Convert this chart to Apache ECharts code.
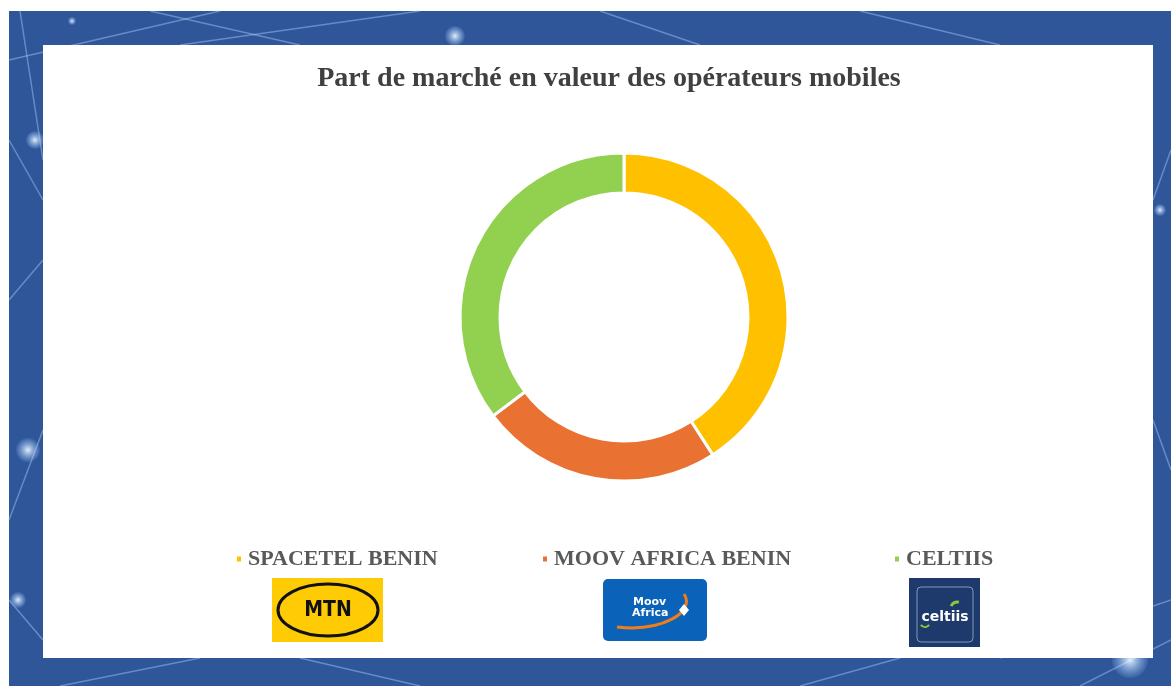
<!DOCTYPE html>
<html>
<head>
<meta charset="utf-8">
<script src="https://cdn.jsdelivr.net/npm/echarts@6/dist/echarts.min.js"></script>
<style>
  html, body { margin: 0; padding: 0; background: #fff; }
  #chart { width: 1171px; height: 686px; }
</style>
</head>
<body>
<div id="chart"></div>
<script>
const titleText = 'Part de marché en valeur des opérateurs mobiles'
const operators = ['SPACETEL BENIN', 'MOOV AFRICA BENIN', 'CELTIIS']
const shares = [40.9, 23.8, 35.3]
const colors = ['#FFC000', '#E97132', '#92D050']

const chart = echarts.init(document.getElementById('chart'))

// decoration: blue network frame behind the white panel
const glowLines = [
  [9, 60, 220, 11], [9, 140, 43, 200], [20, 11, 43, 160], [9, 520, 43, 430],
  [9, 600, 43, 640], [150, 11, 300, 45], [180, 45, 420, 11], [600, 11, 700, 45],
  [860, 11, 1000, 45], [1153, 200, 1171, 150], [1153, 420, 1171, 470],
  [60, 686, 200, 658], [300, 658, 420, 686], [800, 686, 900, 658],
  [1000, 658, 1171, 600], [1080, 686, 1171, 640], [9, 300, 43, 260]
]
const glowDots = [[72, 21, 4], [35, 140, 9], [28, 450, 12], [18, 600, 8], [455, 36, 10], [1130, 660, 18], [1160, 210, 6]]

const decor = []
decor.push({ type: 'rect', shape: { x: 9, y: 11, width: 1162, height: 675 }, style: { fill: '#2E5699' }, z: 0 })
glowLines.forEach(l => decor.push({
  type: 'line', shape: { x1: l[0], y1: l[1], x2: l[2], y2: l[3] },
  style: { stroke: 'rgba(170,205,255,0.45)', lineWidth: 1.5 }, z: 1
}))
glowDots.forEach(d => decor.push({
  type: 'circle', shape: { cx: d[0], cy: d[1], r: d[2] },
  style: { fill: new echarts.graphic.RadialGradient(0.5, 0.5, 0.5, [
    { offset: 0, color: 'rgba(235,245,255,0.95)' },
    { offset: 1, color: 'rgba(160,200,255,0.1)' }
  ]) }, z: 1
}))
decor.push({ type: 'rect', shape: { x: 43, y: 45, width: 1110, height: 613 }, style: { fill: '#fff' }, z: 2 })

// logos
const logos = [
  // MTN
  { type: 'rect', shape: { x: 272, y: 578, width: 111, height: 64 }, style: { fill: '#FFCB05' }, z: 5 },
  { type: 'ellipse', shape: { cx: 328, cy: 610, rx: 50, ry: 26 }, style: { fill: 'none', stroke: '#111', lineWidth: 3 }, z: 6 },
  { type: 'text', x: 328, y: 611, style: { text: 'MTN', font: 'bold 21px "DejaVu Sans Condensed", "DejaVu Sans"', fill: '#111', align: 'center', verticalAlign: 'middle' }, z: 6 },
  // Moov Africa
  { type: 'rect', shape: { x: 603, y: 579, width: 104, height: 62, r: 5 }, style: { fill: '#0B63B9' }, z: 5 },
  { type: 'text', x: 633, y: 602, style: { text: 'Moov', font: 'bold 11px "DejaVu Sans"', fill: '#fff', align: 'left', verticalAlign: 'middle' }, z: 6 },
  { type: 'text', x: 632, y: 613, style: { text: 'Africa', font: 'bold 11px "DejaVu Sans"', fill: '#fff', align: 'left', verticalAlign: 'middle' }, z: 6 },
  { type: 'bezierCurve', shape: { x1: 617, y1: 627, cpx1: 662, cpy1: 632, x2: 684, y2: 594, cpx2: 696, cpy2: 612 }, style: { stroke: '#F07D1A', lineWidth: 3, fill: 'none' }, z: 6 },
  { type: 'polygon', shape: { points: [[684, 604], [689, 610], [684, 616], [679, 610]] }, style: { fill: '#fff' }, z: 7 },
  // Celtiis
  { type: 'rect', shape: { x: 909, y: 578, width: 71, height: 69 }, style: { fill: '#1E3A6D' }, z: 5 },
  { type: 'rect', shape: { x: 917, y: 587, width: 56, height: 55, r: 4 }, style: { fill: 'none', stroke: 'rgba(200,215,240,0.6)', lineWidth: 1 }, z: 6 },
  { type: 'text', x: 945, y: 617, style: { text: 'celtiis', font: 'bold 14px "DejaVu Sans"', fill: '#fff', align: 'center', verticalAlign: 'middle' }, z: 6 },
  { type: 'arc', shape: { cx: 957, cy: 608, r: 6, startAngle: Math.PI * 1.1, endAngle: Math.PI * 1.6 }, style: { stroke: '#8DC63F', lineWidth: 3, fill: 'none' }, z: 6 },
  { type: 'arc', shape: { cx: 925, cy: 622, r: 5, startAngle: Math.PI * 0.2, endAngle: Math.PI * 0.8 }, style: { stroke: '#8DC63F', lineWidth: 2, fill: 'none' }, z: 6 }
]

const legendLeft = [235, 541, 893]

const option = {
  animation: false,
  title: {
    text: titleText,
    left: 604,
    top: 60,
    textAlign: 'center',
    textStyle: { fontFamily: 'Liberation Serif', fontWeight: 'bold', fontSize: 28, color: '#404040' }
  },
  legend: operators.map((name, i) => ({
    data: [name],
    left: legendLeft[i],
    top: 548,
    padding: 0,
    icon: 'rect',
    itemWidth: 6,
    itemHeight: 7,
    itemGap: 0,
    textStyle: { fontFamily: 'Liberation Serif', fontWeight: 'bold', fontSize: 22, color: '#595959', padding: [0, 0, 0, 1] },
    z: 10
  })),
  graphic: decor.concat(logos),
  series: [
    {
      type: 'pie',
      center: [624, 317],
      radius: [124, 164],
      startAngle: 90,
      clockwise: true,
      label: { show: false },
      labelLine: { show: false },
      itemStyle: { borderColor: '#fff', borderWidth: 3 },
      emphasis: { disabled: true },
      z: 10,
      data: operators.map((name, i) => ({ name, value: shares[i], itemStyle: { color: colors[i] } }))
    }
  ]
}
chart.setOption(option)
</script>
</body>
</html>
